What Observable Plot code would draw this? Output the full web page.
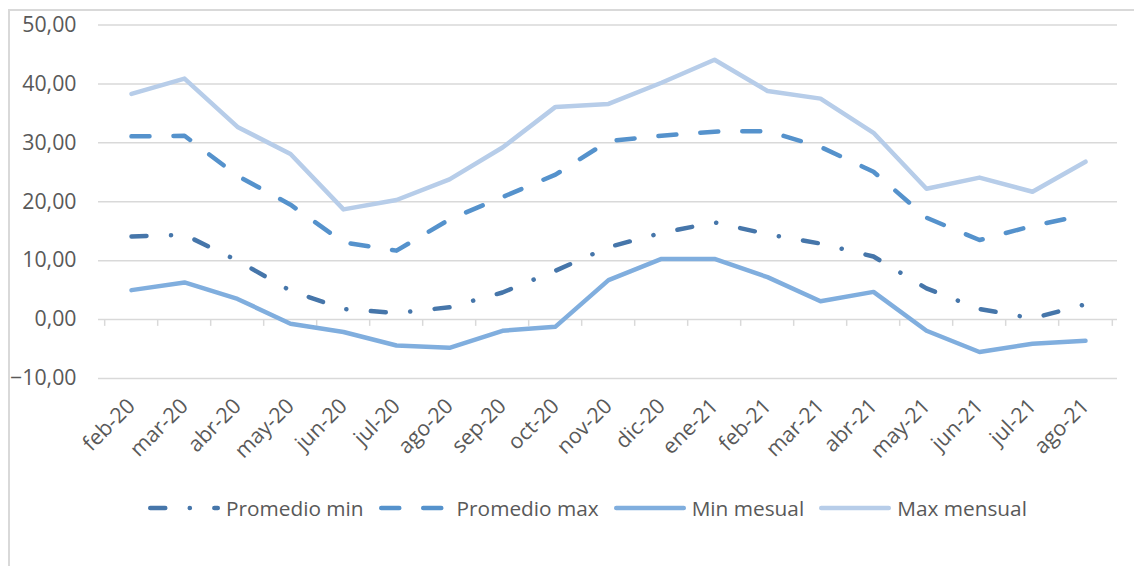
<!DOCTYPE html>
<html><head><meta charset="utf-8">
<script src="https://cdn.jsdelivr.net/npm/d3@7"></script>
<script src="https://cdn.jsdelivr.net/npm/@observablehq/plot@0.6"></script>
<style>
body{margin:0;background:#fff;font-family:"Open Sans",sans-serif;}
#wrap{position:relative;width:1134px;height:566px;overflow:hidden;background:#fff;}
#border{position:absolute;left:8px;top:9px;width:1300px;height:800px;border-left:2px solid #D9D9D9;border-top:2px solid #D9D9D9;}
#chart{position:absolute;left:0;top:0;}
#legend{position:absolute;left:148px;top:494px;display:flex;align-items:center;font-size:20.8px;color:#595959;white-space:nowrap;}
.item{display:flex;align-items:center;margin-right:15px;}
.item svg{margin-right:6px;}
</style>
</head><body>
<div id="wrap"><div id="border"></div><div id="chart"></div><div id="legend"></div></div>
<script>
const months = ["feb-20","mar-20","abr-20","may-20","jun-20","jul-20","ago-20","sep-20","oct-20","nov-20","dic-20","ene-21","feb-21","mar-21","abr-21","may-21","jun-21","jul-21","ago-21"];
const promedioMin = [14.1, 14.4, 10.0, 4.9, 1.8, 1.1, 2.1, 4.6, 8.3, 12.3, 14.7, 16.5, 14.5, 12.9, 10.7, 5.3, 1.8, 0.2, 2.6];
const promedioMax = [31.1, 31.2, 24.4, 19.5, 13.1, 11.7, 17.0, 20.8, 24.6, 30.3, 31.2, 31.9, 32.0, 29.3, 25.1, 17.3, 13.5, 15.9, 17.8];
const minMensual = [5.0, 6.3, 3.5, -0.7, -2.1, -4.4, -4.8, -1.9, -1.2, 6.7, 10.3, 10.3, 7.2, 3.1, 4.7, -1.9, -5.5, -4.1, -3.6];
const maxMensual = [38.3, 40.9, 32.7, 28.1, 18.7, 20.3, 23.8, 29.2, 36.1, 36.6, 40.2, 44.1, 38.8, 37.5, 31.7, 22.2, 24.1, 21.7, 26.8];
const yTicks = [-10, 0, 10, 20, 30, 40, 50];

const seriesDefs = [
  {name: "Promedio min", values: promedioMin, color: "#4676AA", dash: "15,24.5,0.1,24.5"},
  {name: "Promedio max", values: promedioMax, color: "#5592CC", dash: "18,24"},
  {name: "Min mesual", values: minMensual, color: "#80AEDE", dash: null},
  {name: "Max mensual", values: maxMensual, color: "#B7CDE9", dash: null}
];

const W = 1134, ML = 98, MR = 17;
const halfStep = (W - ML - MR) / months.length / 2;
const fmt = v => d3.format(".2f")(v).replace(".", ",");

const lineMarks = seriesDefs.map(s => Plot.line(
  months.map((m, i) => ({month: m, value: s.values[i]})),
  {x: "month", y: "value", stroke: s.color, strokeWidth: 4.5,
   strokeDasharray: s.dash || undefined, strokeLinecap: "round", strokeLinejoin: "round"}
));

const chart = Plot.plot({
  width: W, height: 470,
  marginLeft: ML, marginRight: MR, marginTop: 24.5, marginBottom: 92,
  x: {type: "point", domain: months, padding: 0.5},
  y: {domain: [-10, 50]},
  style: {fontFamily: "'Open Sans', sans-serif", fontSize: "21.3px", color: "#595959", background: "transparent", overflow: "visible"},
  marks: [
    Plot.ruleY(yTicks, {stroke: "#D9D9D9", strokeWidth: 1.5}),
    Plot.ruleX(months, {x: d => d, y1: 0, y2: -1.15, dx: -halfStep, stroke: "#D9D9D9", strokeWidth: 1.5}),
    Plot.ruleX(months.slice(-1), {x: d => d, y1: 0, y2: -1.15, dx: halfStep, stroke: "#D9D9D9", strokeWidth: 1.5}),
    Plot.axisY({ticks: yTicks, tickSize: 0, tickPadding: 22, tickFormat: fmt, label: null}),
    Plot.axisX({tickRotate: -45, tickSize: 0, tickPadding: 24, label: null}),
    ...lineMarks
  ]
});
document.getElementById("chart").appendChild(chart);

const legend = document.getElementById("legend");
seriesDefs.forEach(s => {
  const item = document.createElement("div");
  item.className = "item";
  const ns = "http://www.w3.org/2000/svg";
  const svg = document.createElementNS(ns, "svg");
  svg.setAttribute("width", 72); svg.setAttribute("height", 12);
  const ln = document.createElementNS(ns, "line");
  ln.setAttribute("x1", 2.25); ln.setAttribute("x2", 69.75);
  ln.setAttribute("y1", 6); ln.setAttribute("y2", 6);
  ln.setAttribute("stroke", s.color); ln.setAttribute("stroke-width", 4.5);
  ln.setAttribute("stroke-linecap", "round");
  if (s.dash) ln.setAttribute("stroke-dasharray", s.dash);
  svg.appendChild(ln);
  const t = document.createElement("span");
  t.textContent = s.name;
  item.appendChild(svg); item.appendChild(t);
  legend.appendChild(item);
});
</script>
</body></html>
